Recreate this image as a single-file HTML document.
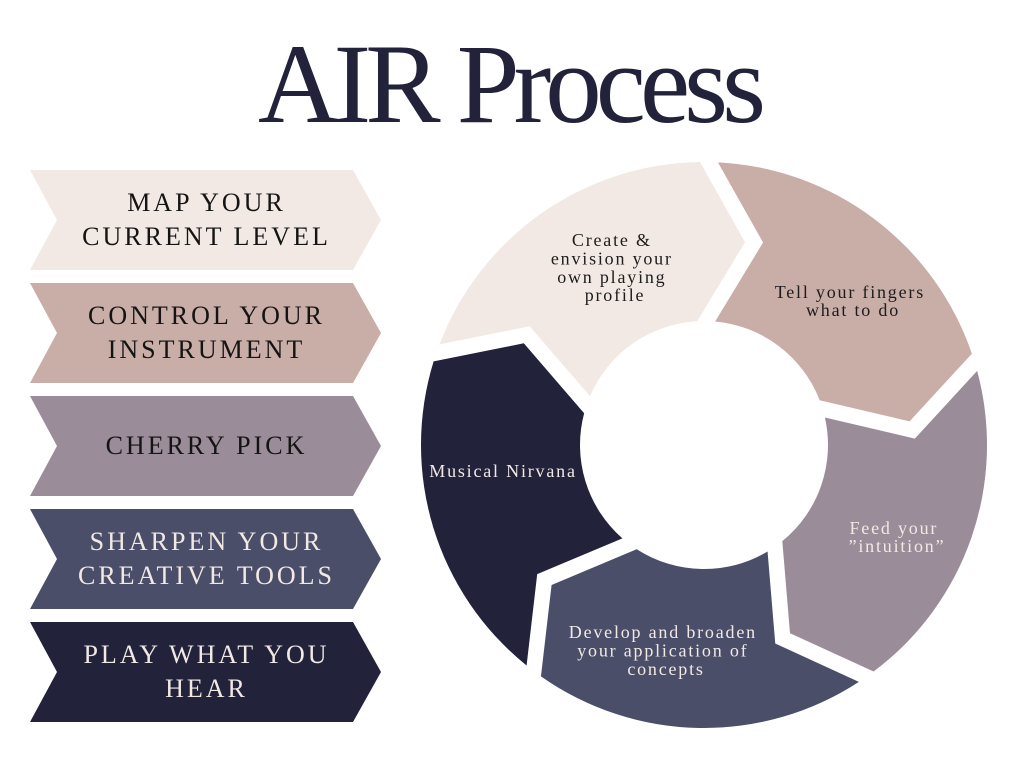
<!DOCTYPE html>
<html>
<head>
<meta charset="utf-8">
<style>
  html, body { margin: 0; padding: 0; background: #ffffff; }
  body { width: 1024px; height: 768px; overflow: hidden; }
  svg { display: block; }
  text { font-family: "Liberation Serif", "DejaVu Serif", serif; }
</style>
</head>
<body>
<svg width="1024" height="768" viewBox="0 0 1024 768" xmlns="http://www.w3.org/2000/svg">
  <rect x="0" y="0" width="1024" height="768" fill="#ffffff"/>

  <!-- Title -->
  <text x="509" y="122" text-anchor="middle" font-size="113" letter-spacing="-6" fill="#22223b">AIR Process</text>

  <!-- Left chevrons -->
  <polygon points="30,170 353,170 381,220 353,270 30,270 57,220" fill="#f2e9e4"/>
  <polygon points="30,283 353,283 381,333 353,383 30,383 57,333" fill="#c9ada7"/>
  <polygon points="30,396 353,396 381,446 353,496 30,496 57,446" fill="#9a8c98"/>
  <polygon points="30,509 353,509 381,559 353,609 30,609 57,559" fill="#4a4e69"/>
  <polygon points="30,622 353,622 381,672 353,722 30,722 57,672" fill="#22223b"/>

  <g font-size="26" letter-spacing="3" text-anchor="middle">
    <text x="206.5" y="211" fill="#141414">MAP YOUR</text>
    <text x="206.5" y="245" fill="#141414">CURRENT LEVEL</text>
    <text x="206.5" y="324" fill="#141414">CONTROL YOUR</text>
    <text x="206.5" y="358" fill="#141414">INSTRUMENT</text>
    <text x="206.5" y="454" fill="#141414">CHERRY PICK</text>
    <text x="206.5" y="550" fill="#f2e9e4">SHARPEN YOUR</text>
    <text x="206.5" y="584" fill="#f2e9e4">CREATIVE TOOLS</text>
    <text x="206.5" y="663" fill="#f2e9e4">PLAY WHAT YOU</text>
    <text x="206.5" y="697" fill="#f2e9e4">HEAR</text>
  </g>

  <!-- Cycle ring -->
  <path d="M439.48,344.40 A283,283 0 0 1 699.94,162.03 L745.05,242.19 L697.16,321.19 A124,124 0 0 0 589.99,396.23 L529.66,326.27 Z" fill="#f2e9e4"/>
  <path d="M717.94,162.34 A283,283 0 0 1 971.87,353.69 L909.57,421.36 L819.64,400.23 A124,124 0 0 0 715.16,321.50 L763.04,242.50 Z" fill="#c9ada7"/>
  <path d="M977.13,370.91 A283,283 0 0 1 873.61,671.54 L790.01,633.21 L782.31,541.14 A124,124 0 0 0 824.90,417.45 L914.84,438.58 Z" fill="#9a8c98"/>
  <path d="M858.87,681.86 A283,283 0 0 1 540.96,676.32 L551.58,584.95 L636.76,549.19 A124,124 0 0 0 767.56,551.47 L775.26,643.53 Z" fill="#4a4e69"/>
  <path d="M526.58,665.48 A283,283 0 0 1 433.62,361.42 L523.80,343.29 L584.14,413.25 A124,124 0 0 0 622.38,538.35 L537.21,574.12 Z" fill="#22223b"/>

  <!-- Ring labels -->
  <g font-size="18" letter-spacing="1.8" text-anchor="middle">
    <text fill="#1c1c1c">
      <tspan x="615" y="246">Create &amp;</tspan>
      <tspan x="615" y="264.5">envision your</tspan>
      <tspan x="615" y="283">own playing</tspan>
      <tspan x="615" y="301">profile</tspan>
    </text>
    <text fill="#1c1c1c">
      <tspan x="853" y="298">Tell your fingers</tspan>
      <tspan x="853" y="316">what to do</tspan>
    </text>
    <text fill="#f2e9e4">
      <tspan x="503" y="477">Musical Nirvana</tspan>
    </text>
    <text fill="#f2e9e4">
      <tspan x="897" y="534">Feed your</tspan>
      <tspan x="897" y="552">”intuition”</tspan>
    </text>
    <text fill="#f2e9e4">
      <tspan x="666" y="638">Develop and broaden</tspan>
      <tspan x="666" y="656.5">your application of</tspan>
      <tspan x="666" y="675">concepts</tspan>
    </text>
  </g>
</svg>
</body>
</html>
